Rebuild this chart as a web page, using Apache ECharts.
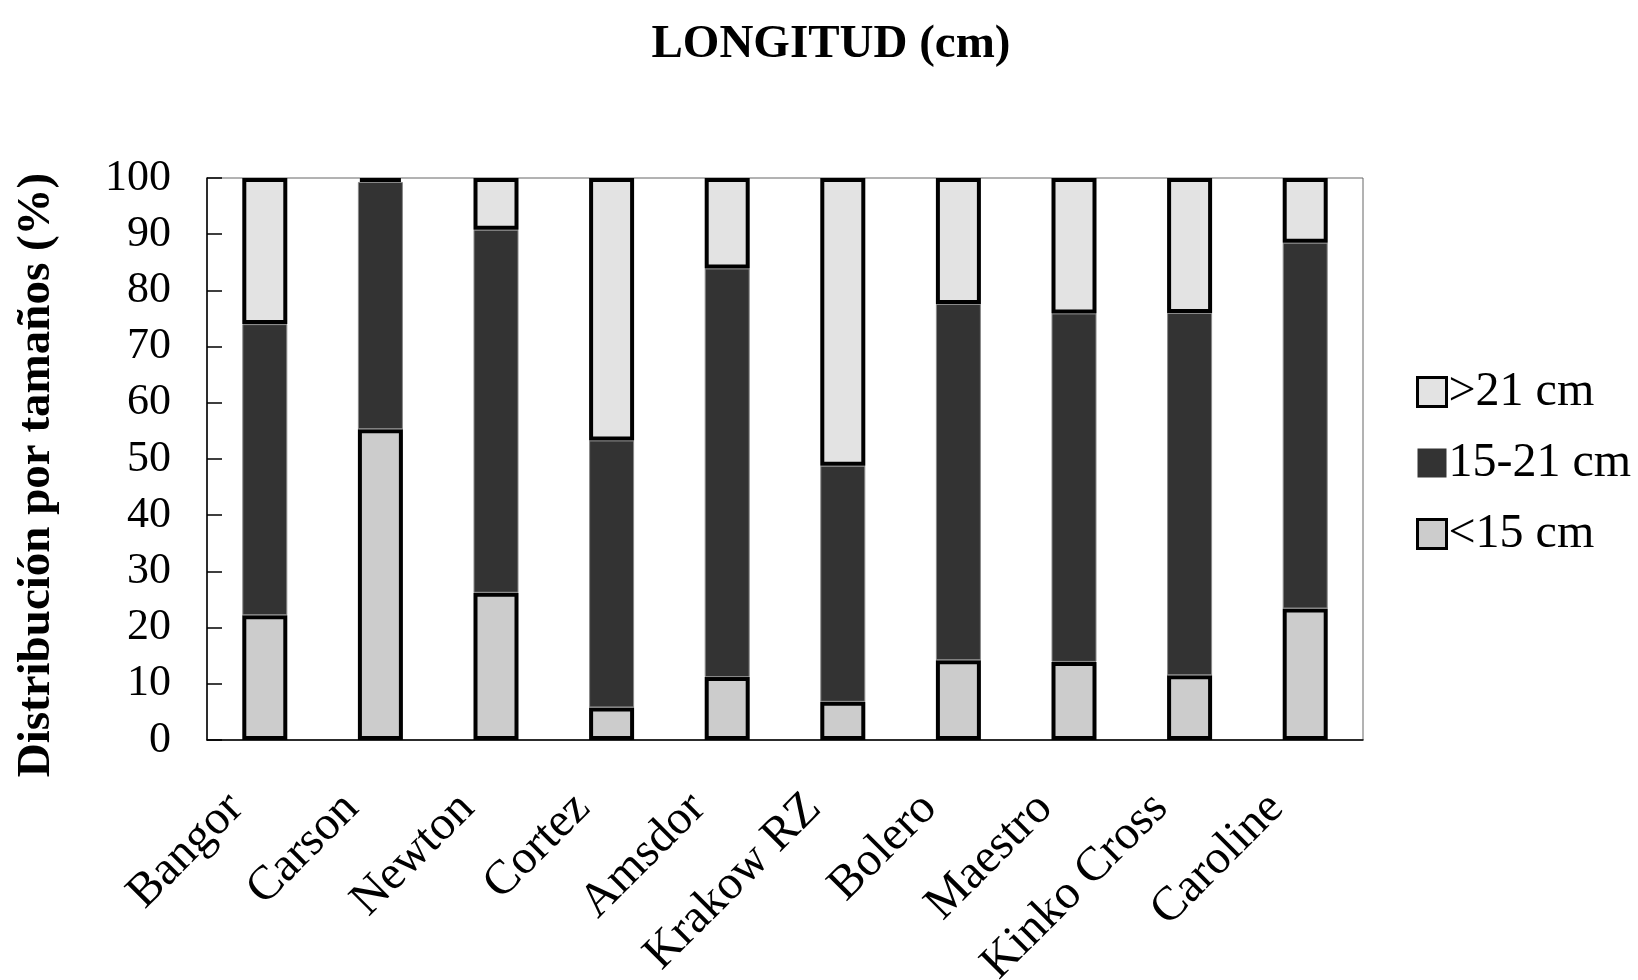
<!DOCTYPE html>
<html>
<head>
<meta charset="utf-8">
<script src="https://cdn.jsdelivr.net/npm/echarts@6/dist/echarts.min.js"></script>
<style>html,body{margin:0;padding:0;background:#fff;}#chart{width:1638px;height:980px;}</style>
</head>
<body>
<div id="chart"></div>
<script>
const categories = ['Bangor', 'Carson', 'Newton', 'Cortez', 'Amsdor', 'Krakow RZ', 'Bolero', 'Maestro', 'Kinko Cross', 'Caroline'];
const small = [22.2, 55.3, 26.2, 5.8, 11.2, 6.8, 14.2, 13.9, 11.5, 23.4];      // <15 cm
const medium = [51.8, 44.0, 64.6, 47.5, 72.7, 42.0, 63.4, 62.0, 64.5, 65.1];   // 15-21 cm
const large = [26.0, 0.7, 9.2, 46.7, 16.1, 51.2, 22.4, 24.1, 24.0, 11.5];      // >21 cm
const seriesNames = ['<15 cm', '15-21 cm', '>21 cm'];
const legendOrder = ['>21 cm', '15-21 cm', '<15 cm'];
const yTicks = [0, 10, 20, 30, 40, 50, 60, 70, 80, 90, 100];

const FONT = "'Liberation Serif', 'Times New Roman', serif";
const chart = echarts.init(document.getElementById('chart'));
chart.setOption({
  backgroundColor: '#fff',
  animation: false,
  title: {
    text: 'LONGITUD (cm)',
    left: 826, top: 16, textAlign: 'center',
    textStyle: { fontFamily: FONT, fontSize: 47, fontWeight: 'bold', color: '#000' }
  },
  legend: {
    data: legendOrder.map(n => n === '15-21 cm'
      ? { name: n, itemStyle: { borderWidth: 0 } }
      : { name: n, itemStyle: { borderWidth: 3, borderColor: '#000' } }),
    orient: 'vertical',
    icon: 'rect',
    left: 1411, top: 363,
    itemWidth: 29, itemHeight: 29, itemGap: 23,
    textStyle: { fontFamily: FONT, fontSize: 48, color: '#000', lineHeight: 48, padding: [0,0,0,-3] }
  },
  grid: { left: 207, right: 275, top: 178, bottom: 240, containLabel: false, outerBoundsMode: 'none',
    show: true, borderColor: '#666', borderWidth: 1, backgroundColor: 'transparent' },
  xAxis: {
    type: 'category',
    data: categories,
    axisLine: { lineStyle: { color: '#000', width: 1.5 } },
    axisTick: { inside: true, length: 14, lineStyle: { color: '#555', width: 1.5 } },
    axisLabel: { rotate: 45, margin: 32, padding: [0, 41, 0, 0], interval: 0, fontFamily: FONT, fontSize: 48, color: '#000' }
  },
  yAxis: {
    type: 'value',
    min: 0, max: 100, interval: 10,
    name: 'Distribución por tamaños (%)',
    nameLocation: 'middle', nameGap: 147,
    nameTextStyle: { fontFamily: FONT, fontSize: 47, fontWeight: 'bold', color: '#000', padding: [0, 32, 0, 0] },
    axisLine: { show: true, lineStyle: { color: '#000', width: 1.5 } },
    axisTick: { show: true, inside: true, length: 15, lineStyle: { color: '#000', width: 1.5 } },
    axisLabel: { margin: 36, fontFamily: FONT, fontSize: 44, color: '#000',
      formatter: v => yTicks.indexOf(v) >= 0 ? String(v) : '' },
    splitLine: { show: false }
  },
  series: [
    { name: seriesNames[0], type: 'bar', stack: 'a', barWidth: 45, data: small,
      itemStyle: { color: '#cccccc', borderColor: '#000', borderWidth: 4 } },
    { name: seriesNames[1], type: 'bar', stack: 'a', barWidth: 45, data: medium,
      itemStyle: { color: '#333333', borderColor: '#888', borderWidth: 1 } },
    { name: seriesNames[2], type: 'bar', stack: 'a', barWidth: 45, data: large,
      itemStyle: { color: '#e3e3e3', borderColor: '#000', borderWidth: 4 } }
  ]
});
</script>
</body>
</html>
